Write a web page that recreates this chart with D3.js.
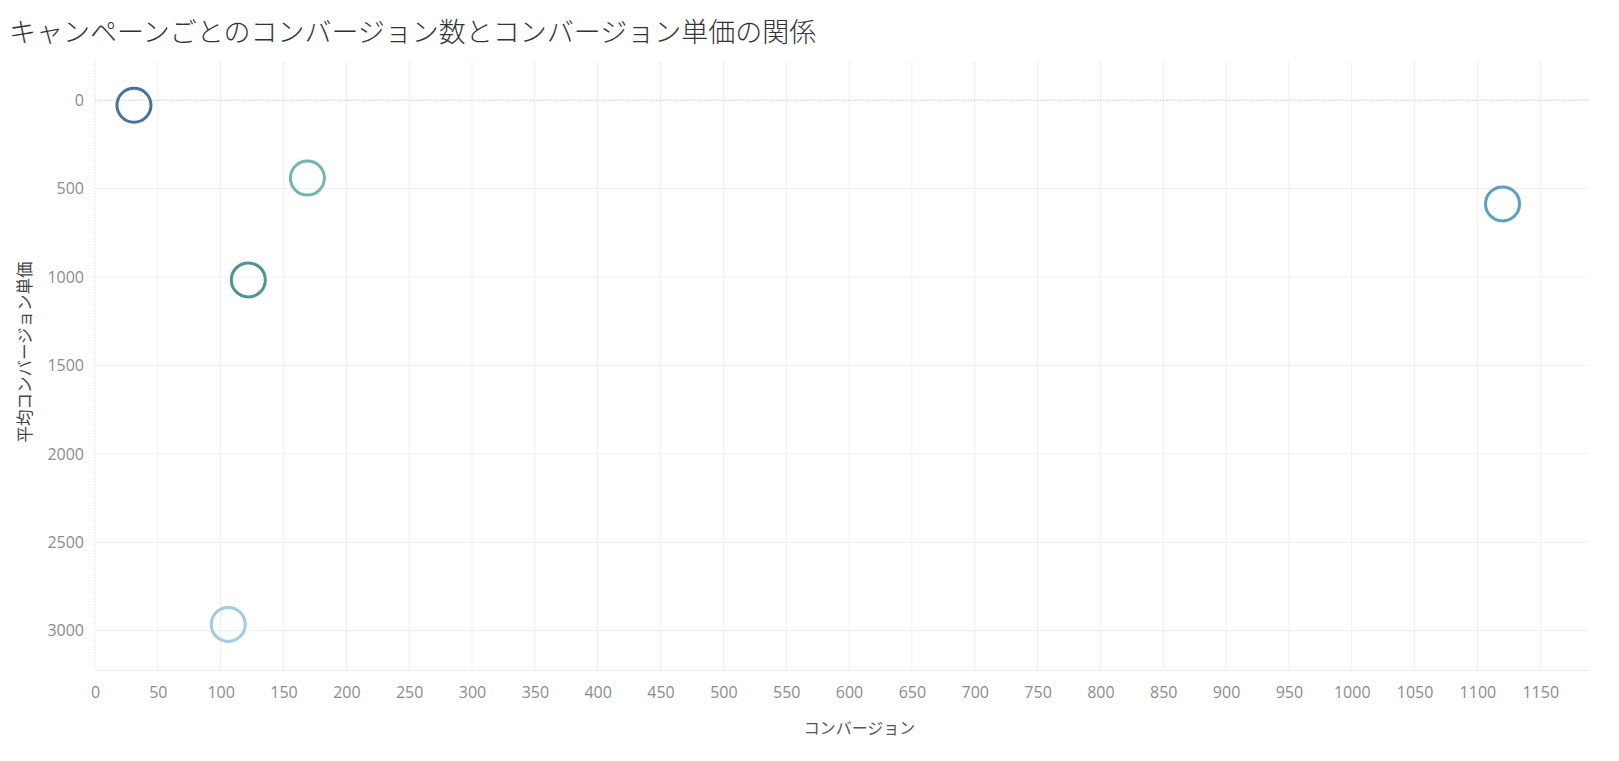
<!DOCTYPE html>
<html>
<head>
<meta charset="utf-8">
<script src="https://cdn.jsdelivr.net/npm/d3@7"></script>
<style>
  body { margin: 0; background: #fff; }
  text { font-family: "Open Sans", "Noto Sans CJK JP", sans-serif; }
  .title { font-family: "Noto Sans CJK JP", sans-serif; font-weight: 300; }
  .axis-title { font-family: "Noto Sans CJK JP", sans-serif; }
</style>
</head>
<body>
<script>
var width = 1619;
var height = 761;

// データ
var campaigns = ["キャンペーンA", "キャンペーンB", "キャンペーンC", "キャンペーンD", "キャンペーンE"];
var conversions = [31, 169, 122, 106, 1120];      // コンバージョン
var avgCpa = [28, 440, 1016, 2964, 586];          // 平均コンバージョン単価
var colors = ["#4a709e", "#74b6ad", "#4b978f", "#a3cbe2", "#5d9fc7"];
var xTicks = d3.range(0, 1151, 50);
var yTicks = [0, 500, 1000, 1500, 2000, 2500, 3000];

var plot = { left: 95, right: 1588, top: 61, bottom: 670 };

var svg = d3.select("body")
    .append("svg")
    .attr("width", width)
    .attr("height", height);

var xScale = d3.scaleLinear()
    .domain([0, 1188])
    .range([plot.left, plot.right]);

// 0が上、下に向かって増える
var yScale = d3.scaleLinear()
    .domain([-222, 3222])
    .range([plot.top, plot.bottom]);

// タイトル
svg.append("text")
    .attr("class", "title")
    .attr("x", 9)
    .attr("y", 42)
    .attr("font-size", 27)
    .attr("fill", "#333")
    .text("キャンペーンごとのコンバージョン数とコンバージョン単価の関係");

// グリッド
svg.append("g")
    .selectAll("line")
    .data(xTicks.filter(function (d) { return d !== 0; }))
    .enter()
    .append("line")
    .attr("x1", function (d) { return xScale(d); })
    .attr("x2", function (d) { return xScale(d); })
    .attr("y1", plot.top)
    .attr("y2", plot.bottom)
    .attr("stroke", "#efefef")
    .attr("stroke-width", 1);

svg.append("g")
    .selectAll("line")
    .data(yTicks.filter(function (d) { return d !== 0; }))
    .enter()
    .append("line")
    .attr("x1", plot.left)
    .attr("x2", plot.right)
    .attr("y1", function (d) { return yScale(d); })
    .attr("y2", function (d) { return yScale(d); })
    .attr("stroke", "#efefef")
    .attr("stroke-width", 1);

// 下端の線
svg.append("line")
    .attr("x1", plot.left)
    .attr("x2", plot.right)
    .attr("y1", plot.bottom + 0.5)
    .attr("y2", plot.bottom + 0.5)
    .attr("stroke", "#ececec");

// ゼロ線（点線）
svg.append("line")
    .attr("x1", xScale(0))
    .attr("x2", xScale(0))
    .attr("y1", plot.top)
    .attr("y2", plot.bottom)
    .attr("stroke", "#e2e2e2")
    .attr("stroke-dasharray", "1.5,1.5");

svg.append("line")
    .attr("x1", plot.left)
    .attr("x2", plot.right)
    .attr("y1", yScale(0))
    .attr("y2", yScale(0))
    .attr("stroke", "#c8c8c8")
    .attr("stroke-dasharray", "1.5,1.5");

// x軸
var xAxis = d3.axisBottom(xScale)
    .tickValues(xTicks)
    .tickFormat(d3.format("d"))
    .tickSize(0)
    .tickPadding(0);

var gx = svg.append("g")
    .attr("transform", "translate(0," + (plot.bottom + 28) + ")")
    .call(xAxis);
gx.select(".domain").remove();
gx.selectAll("text")
    .attr("font-size", 16)
    .attr("fill", "#8c8c8c")
    .attr("font-family", "'Open Sans', sans-serif")
    .attr("dy", "0");

// y軸
var yAxis = d3.axisLeft(yScale)
    .tickValues(yTicks)
    .tickFormat(d3.format("d"))
    .tickSize(0)
    .tickPadding(0);

var gy = svg.append("g")
    .attr("transform", "translate(84,0)")
    .call(yAxis);
gy.select(".domain").remove();
gy.selectAll("text")
    .attr("font-size", 16)
    .attr("fill", "#8c8c8c")
    .attr("font-family", "'Open Sans', sans-serif");

// 軸タイトル
svg.append("text")
    .attr("class", "axis-title")
    .attr("x", (plot.left + plot.right) / 2 + 18)
    .attr("y", 734)
    .attr("text-anchor", "middle")
    .attr("font-size", 16)
    .attr("fill", "#555")
    .text("コンバージョン");

svg.append("text")
    .attr("class", "axis-title")
    .attr("transform", "translate(31," + 352 + ") rotate(-90)")
    .attr("text-anchor", "middle")
    .attr("font-size", 16.5)
    .attr("fill", "#444")
    .text("平均コンバージョン単価");

// 散布図の円
svg.append("g")
    .selectAll("circle")
    .data(campaigns)
    .enter()
    .append("circle")
    .attr("cx", function (d, i) { return xScale(conversions[i]); })
    .attr("cy", function (d, i) { return yScale(avgCpa[i]); })
    .attr("r", 17)
    .attr("fill", "none")
    .attr("stroke", function (d, i) { return colors[i]; })
    .attr("stroke-width", 3);
</script>
</body>
</html>
